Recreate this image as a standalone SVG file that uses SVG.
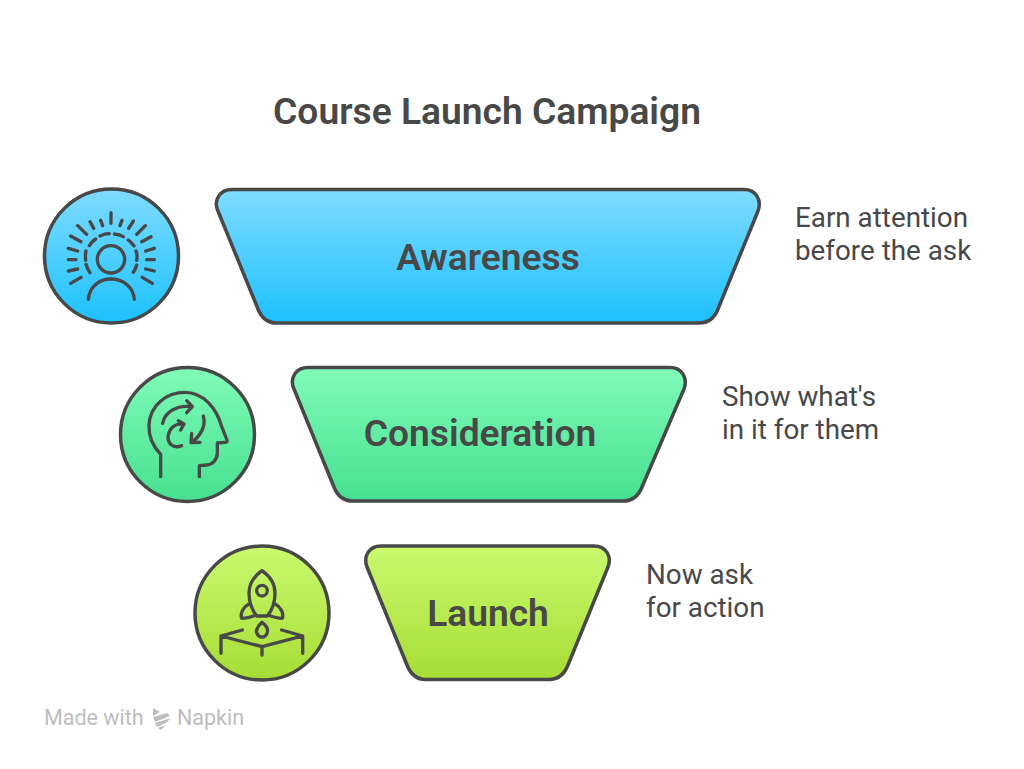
<svg xmlns="http://www.w3.org/2000/svg" width="1024" height="769" viewBox="0 0 1024 769">
<style>
text{font-family:"Roboto","Liberation Sans",sans-serif;fill:#484848}
.t{font-size:37.200px;font-weight:600;text-anchor:middle}
.n{font-size:37.200px;font-weight:600;text-anchor:middle}
.d{font-size:27.800px;font-weight:400}
.s{stroke:#484848;stroke-width:3.500;stroke-linejoin:round}
.i{fill:none;stroke:#484848;stroke-width:10;stroke-linecap:round;stroke-linejoin:round}
.w{font-size:21.500px;font-weight:400;fill:#bdbdbd}
</style>
<defs>
<linearGradient id="b" x1="0" y1="0" x2="0" y2="1"><stop offset="0" stop-color="#7fdcff"/><stop offset="1" stop-color="#1dc1ff"/></linearGradient>
<linearGradient id="g" x1="0" y1="0" x2="0" y2="1"><stop offset="0" stop-color="#80fbb8"/><stop offset="1" stop-color="#46e090"/></linearGradient>
<linearGradient id="l" x1="0" y1="0" x2="0" y2="1"><stop offset="0" stop-color="#caf96e"/><stop offset="1" stop-color="#a6dd35"/></linearGradient>
</defs>
<rect width="1024" height="769" fill="#fff"/>
<text id="title" class="t" x="487" y="124">Course Launch Campaign</text>

<g id="awareness">
<path class="s" style="fill:url(#b)" d="M232 189.500H744C756 189.500 762 200 758 211L718 309C714.500 318 708 323 699 323H277C268 323 261.500 318 258 309L218 211C213 200 220 189.500 232 189.500Z"/>
<text class="n" x="488" y="269.500">Awareness</text>
</g>
<g id="awareness-icon">
<circle class="s" style="fill:url(#b)" cx="111.500" cy="256" r="67"/>
<g transform="translate(30 175) scale(.33333)">
<circle class="i" cx="243" cy="253" r="41"/>
<path class="i" d="M175 373C178 335 208 312 243 312S310 335 313 373"/>
<path class="i" d="M143 152L170 178M180 140L191 160M212 136L218 152M243 113V145M270 152L276 136M296 160L310 138M320 178L346 152M122 183L153 200M335 200L363 185M115 220L143 228M347 228L373 220M115 254H138M350 254H373M115 288L143 282M347 282L373 288M122 325L153 307M337 307L367 325"/>
<path class="i" d="M210 183Q225 176 238 176M253 177Q268 178 280 185M295 195Q305 203 312 213M318 228Q323 240 320 256M320 270Q317 282 310 292M168 228Q165 240 167 256M168 268Q172 282 180 293M178 212Q185 200 197 192"/>
</g>
</g>
<text id="awareness-note" class="d"><tspan x="795" y="227">Earn attention</tspan><tspan x="795" y="260">before the ask</tspan></text>

<g id="consideration">
<path class="s" style="fill:url(#g)" d="M308 367.500H670C682 367.500 688 378 684 389L642 487C638.500 496 632 501 623 501H353C344 501 337.500 496 334 487L294 389C289 378 296 367.500 308 367.500Z"/>
<text class="n" x="480" y="445.500">Consideration</text>
</g>
<g id="consideration-icon">
<circle class="s" style="fill:url(#g)" cx="187.500" cy="434.500" r="67"/>
<g transform="translate(110 355) scale(.33333)">
<path class="i" d="M152 365V298C130 275 115 250 117 210C120 150 170 112 225 112C280 112 320 160 335 215L351 255C352 260 350 262 345 262L322 264V295C322 315 305 330 290 330L268 332V365"/>
<path class="i" d="M158 205C165 170 200 150 245 155M230 137L247 155L230 173"/>
<path class="i" d="M215 272C190 282 170 265 175 240C180 215 200 205 222 207M205 197L222 207L212 225"/>
<path class="i" d="M280 183C288 210 275 240 245 262M245 235L243 263L270 262"/>
</g>
</g>
<text id="consideration-note" class="d"><tspan x="722" y="405.500">Show what's</tspan><tspan x="722" y="438.500">in it for them</tspan></text>

<g id="launch">
<path class="s" style="fill:url(#l)" d="M381 546H594C606 546 612 556 608 567L568 665C564.500 674 558 679.500 549 679.500H426C417 679.500 410.500 674 407 665L367 567C363 556 369 546 381 546Z"/>
<text class="n" x="488" y="625.500">Launch</text>
</g>
<g id="launch-icon">
<circle class="s" style="fill:url(#l)" cx="262" cy="613" r="67"/>
<g transform="translate(185 535) scale(.33333)">
<path class="i" d="M231 107C205 125 192 150 192 175C192 205 205 230 215 243H247C258 230 270 205 270 175C270 150 257 125 231 107Z"/>
<circle class="i" cx="231" cy="167" r="16"/>
<path class="i" d="M192 207C175 215 165 235 170 250C185 250 200 245 213 240M270 207C287 215 297 235 292 250C277 250 262 245 249 240"/>
<path class="i" d="M231 262C215 275 212 290 216 295C222 310 240 310 246 295C250 285 245 272 231 262Z"/>
<path class="i" d="M172 285L108 303L231 335L353 303L290 285M108 303V355M353 303V355M231 335V360"/>
</g>
</g>
<text id="launch-note" class="d"><tspan x="646" y="584">Now ask</tspan><tspan x="646" y="617">for action</tspan></text>

<g id="watermark">
<text class="w" x="44" y="724.500">Made with</text>
<path fill="#bdbdbd" d="M153 708L160 712L153 716ZM153 717L167 713L170 716L155 722ZM155 723L171 718L166 723L157 727ZM158 728L166 725L161 730Z"/>
<text class="w" x="177" y="724.500">Napkin</text>
</g>
</svg>
